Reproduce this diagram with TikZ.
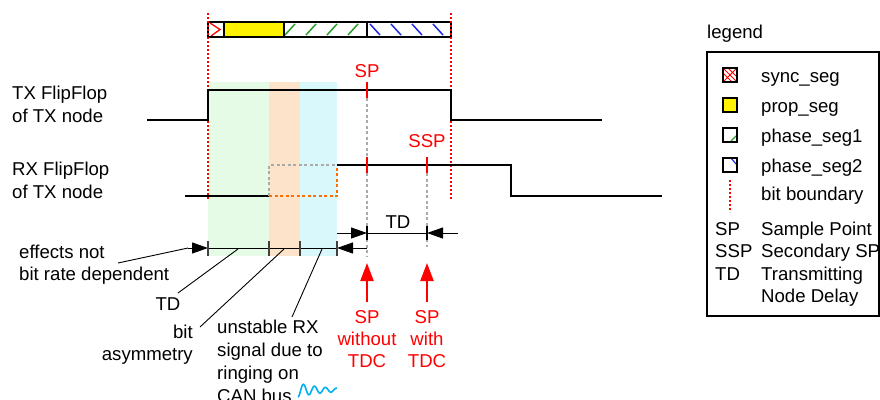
\documentclass[tikz,border=0pt]{standalone}
\usepackage{fontspec}
\setmainfont{Liberation Sans}
\usetikzlibrary{arrows.meta}
\definecolor{bgreen}{RGB}{230,251,230}
\definecolor{borange}{RGB}{253,227,201}
\definecolor{bcyan}{RGB}{217,248,252}
\definecolor{wavecyan}{RGB}{0,176,240}
\definecolor{hgreen}{RGB}{40,160,40}
\definecolor{hblue}{RGB}{30,40,230}
\definecolor{dgray}{RGB}{170,170,170}
\definecolor{morange}{RGB}{255,110,0}
\begin{document}
\begin{tikzpicture}[x=1pt,y=-1pt,
  txt/.style={font=\fontsize{18.6}{22}\selectfont, inner sep=0pt, anchor=base west},
  txtc/.style={txt, anchor=base},
  txte/.style={txt, anchor=base east},
  rtxt/.style={txtc, text=red},
  sig/.style={line width=2pt, line join=miter},
  bitb/.style={red, line width=1.6pt, dash pattern=on 2pt off 2pt},
  gdash/.style={dgray, line width=1.3pt, dash pattern=on 3pt off 2.5pt},
  tri/.style={-{Triangle[length=16pt,width=11pt]}},
  redarr/.style={red, line width=2.2pt, -{Triangle[length=18pt,width=13pt]}},
  pointer/.style={line width=0.9pt},
  tickm/.style={line width=1.4pt, black!75},
  swatch/.style={line width=1.5pt}
]
\useasboundingbox (0,0) rectangle (880,399);

% shaded regions
\fill[bgreen] (208,82) rectangle (269,256);
\fill[borange] (269,82) rectangle (300,256);
\fill[bcyan] (300,82) rectangle (337,256);

% bit frame bar
\fill[yellow] (224,22) rectangle (284,37);
\begin{scope}
  \clip (208,22) rectangle (224,37);
  \draw[red, line width=1.3pt] (210,23) -- (220,29.5) -- (211,36);
\end{scope}
\begin{scope}
  \clip (284,22) rectangle (367,37);
  \foreach \xx in {285,306,327,348}
    \draw[hgreen, line width=1.5pt] (\xx,35) -- (\xx+10,24);
\end{scope}
\begin{scope}
  \clip (367,22) rectangle (451,37);
  \foreach \xx in {370,391,412,433}
    \draw[hblue, line width=1.5pt] (\xx,24) -- (\xx+10,35);
\end{scope}
\draw[line width=2pt] (208,22) rectangle (451,37);
\draw[line width=2pt] (224,22) -- (224,37) (284,22) -- (284,37) (367,22) -- (367,37);

% bit boundaries
\draw[bitb] (208,13) -- (208,200);
\draw[bitb] (451,13) -- (451,200);

% gray dashed sample point lines
\draw[gdash] (367,98) -- (367,157) (367,173) -- (367,257);
\draw[gdash] (427,173) -- (427,247);

% TX signal
\draw[sig] (147,120) -- (208,120) -- (208,90) -- (451,90) -- (451,120) -- (602,120);
% RX signal
\draw[sig] (185,196) -- (269,196);
\draw[gdash] (269,196) -- (269,165) -- (337,165);
\draw[morange, line width=1.5pt, dash pattern=on 3pt off 2.5pt] (269,196) -- (337,196) -- (337,165);
\draw[sig] (337,165) -- (511,165) -- (511,196) -- (662,196);

% SP / SSP ticks
\draw[red, line width=1.6pt] (367,82) -- (367,98) (367,157) -- (367,173) (427,157) -- (427,173);
\node[rtxt] (sp) at (367,77) {SP};
\node[rtxt] (ssp) at (427,147) {SSP};

% labels
\node[txt] (tx1) at (12,99) {TX FlipFlop};
\node[txt] (tx2) at (12,122) {of TX node};
\node[txt] (rx1) at (12,175) {RX FlipFlop};
\node[txt] (rx2) at (12,198) {of TX node};

% timeline
\coordinate (t0) at (208,248);
\coordinate (t1) at (269,248);
\coordinate (t2) at (300,248);
\coordinate (t3) at (337,248);
\coordinate (tsp) at (367,248);
\coordinate (tin) at (188,248);
\draw[line width=1pt] (t0) -- (t3);
\draw[line width=1pt, tri] (tin) -- (t0);
\draw[line width=1pt, tri] (tsp) -- (t3);
\foreach \xx in {208,269,300,337}
  \draw[tickm] (\xx,241) -- (\xx,256);

\coordinate (u0) at (337,233);
\coordinate (u1) at (367,233);
\coordinate (u2) at (427,233);
\coordinate (u3) at (458,233);
\draw[line width=1pt, tri] (u0) -- (u1);
\draw[line width=1pt] (u1) -- (u2);
\draw[line width=1pt, tri] (u3) -- (u2);
\draw[line width=1.2pt] (367,226) -- (367,240) (427,226) -- (427,240);
\node[txtc] (tdu) at (398,228) {TD};

% left annotations
\node[txt] (eff1) at (19,258) {effects not};
\node[txt] (eff2) at (19,280) {bit rate dependent};
\coordinate (effp) at (118,263);
\draw[pointer] (effp) -- (tin);

\node[txtc] (tdl) at (168,310) {TD};
\coordinate (tdp) at (178,293);
\coordinate (tdq) at (238,249);
\draw[pointer] (tdp) -- (tdq);

\node[txte] (bit1) at (193,338) {bit};
\node[txte] (bit2) at (193,360) {asymmetry};
\coordinate (bitp) at (200,327);
\coordinate (bitq) at (284,249);
\draw[pointer] (bitp) -- (bitq);

\node[txt] (un1) at (217,333) {unstable RX};
\node[txt] (un2) at (217,356) {signal due to};
\node[txt] (un3) at (217,379) {ringing on};
\node[txt] (un4) at (217,402) {CAN bus};
\coordinate (unp) at (292,317);
\coordinate (unq) at (322,249);
\draw[pointer] (unp) -- (unq);

% ringing wave
\draw[wavecyan, line width=1.6pt, smooth, samples=80, domain=0:39]
  plot ({298+\x}, {390 + 7*exp(-\x/28)*cos(\x*360/11)});

% red arrows
\coordinate (ra1) at (367,302);
\coordinate (rb1) at (367,263);
\coordinate (ra2) at (427,302);
\coordinate (rb2) at (427,263);
\draw[redarr] (ra1) -- (rb1);
\draw[redarr] (ra2) -- (rb2);
\node[rtxt] (w1) at (367,323) {SP};
\node[rtxt] (w2) at (367,345) {without};
\node[rtxt] (w3) at (367,367) {TDC};
\node[rtxt] (h1) at (427,323) {SP};
\node[rtxt] (h2) at (427,345) {with};
\node[rtxt] (h3) at (427,367) {TDC};

% legend
\node[txt] (leg) at (707,38) {legend};
\draw[line width=1.5pt] (707,52) rectangle (879,316);
% sync swatch
\begin{scope}
  \clip (723,68) rectangle (737,82);
  \draw[red, line width=0.8pt] (723,68) -- (737,82) (723,82) -- (737,68) (728,68) -- (737,77) (723,73) -- (732,82);
\end{scope}
\draw[swatch] (723,68) rectangle (737,82);
\fill[yellow] (723,98) rectangle (737,112);
\draw[swatch] (723,98) rectangle (737,112);
\draw[hgreen, line width=1.2pt] (731,141) -- (736,136);
\draw[swatch] (723,128) rectangle (737,142);
\draw[hblue, line width=1.2pt] (731,158) -- (736,164);
\draw[swatch] (723,158) rectangle (737,172);
\draw[bitb] (730,180) -- (730,212);

\node[txt] (l1) at (761,82) {sync\_seg};
\node[txt] (l2) at (761,112) {prop\_seg};
\node[txt] (l3) at (761,142) {phase\_seg1};
\node[txt] (l4) at (761,172) {phase\_seg2};
\node[txt] (l5) at (761,200) {bit boundary};
\node[txt] (a1) at (715,235) {SP};
\node[txt] (b1) at (761,235) {Sample Point};
\node[txt] (a2) at (715,257) {SSP};
\node[txt] (b2) at (761,257) {Secondary SP};
\node[txt] (a3) at (715,280) {TD};
\node[txt] (b3) at (761,280) {Transmitting};
\node[txt] (b4) at (761,302) {Node Delay};
\end{tikzpicture}
\end{document}
